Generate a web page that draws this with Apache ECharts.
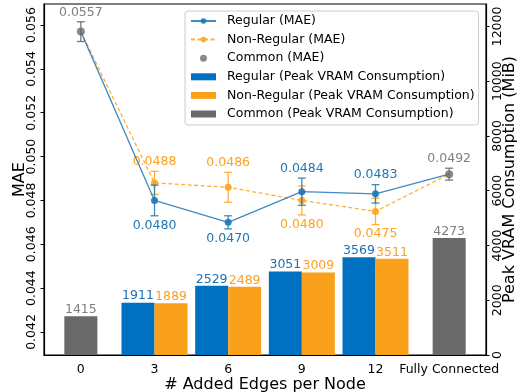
<!DOCTYPE html>
<html>
<head>
<meta charset="utf-8">
<script src="https://cdn.jsdelivr.net/npm/echarts@6/dist/echarts.min.js"></script>
<style>
html,body{margin:0;padding:0;background:#fff;}
#chart{width:523px;height:392px;}
</style>
</head>
<body>
<div id="chart"></div>
<script>
// ---- data ----
const categories = ['0', '3', '6', '9', '12', 'Fully Connected'];
const regularMAE = [null, 0.0480, 0.0470, 0.0484, 0.0483, null];
const regularErr = [null, 0.0007, 0.0003, 0.00062, 0.00042, null];
const nonRegularMAE = [null, 0.0488, 0.0486, 0.0480, 0.0475, null];
const nonRegularErr = [null, 0.00053, 0.00068, 0.00066, 0.0006, null];
const commonMAE = [0.0557, null, null, null, null, 0.0492];
const commonErr = [0.00045, null, null, null, null, 0.00027];
const regularVRAM = [null, 1911, 2529, 3051, 3569, null];
const nonRegularVRAM = [null, 1889, 2489, 3009, 3511, null];
const commonVRAM = [1415, null, null, null, null, 4273];
const vramTickStep = 2000;

// ---- styles ----
const FONT = 'DejaVu Sans';
const C_REG = '#1f77b4';
const C_NON = '#ffa31a';
const C_COM = '#6b6b6b';
const C_REG_BAR = '#0070c0';
const C_NON_BAR = '#f9a11b';
const C_COM_BAR = '#696969';

const regLine = categories.map((_, i) => commonMAE[i] != null ? commonMAE[i] : regularMAE[i]);
const nonLine = categories.map((_, i) => commonMAE[i] != null ? commonMAE[i] : nonRegularMAE[i]);

function errData(vals, errs, other) {
  const out = [];
  vals.forEach((v, i) => {
    if (v == null) return;
    let dir = 1;
    if (other && other[i] != null && v < other[i]) dir = -1;
    out.push([i, v, errs[i], dir]);
  });
  return out;
}

function errRenderer(color, labelColor) {
  return function (params, api) {
    const x = api.value(0), v = api.value(1), e = api.value(2), dir = api.value(3);
    const top = api.coord([x, v + e]);
    const bot = api.coord([x, v - e]);
    const cx = top[0];
    const lw = 1.3, cap = 4;
    const ly = dir > 0 ? top[1] - 9.5 : bot[1] + 9.5;
    return {
      type: 'group',
      children: [
        {type: 'line', shape: {x1: cx, y1: top[1], x2: cx, y2: bot[1]}, style: {stroke: color, lineWidth: lw}},
        {type: 'line', shape: {x1: cx - cap, y1: top[1], x2: cx + cap, y2: top[1]}, style: {stroke: color, lineWidth: lw}},
        {type: 'line', shape: {x1: cx - cap, y1: bot[1], x2: cx + cap, y2: bot[1]}, style: {stroke: color, lineWidth: lw}},
        {type: 'text', x: cx, y: ly, style: {text: v.toFixed(4), fill: labelColor, font: '12.5px "DejaVu Sans"', textAlign: 'center', textVerticalAlign: 'middle'}}
      ]
    };
  };
}

const chart = echarts.init(document.getElementById('chart'), null, {renderer: 'canvas'});

const barLabel = (color) => ({show: true, position: 'top', distance: 0, color: color, fontFamily: FONT, fontSize: 12.5});

const option = {
  animation: false,
  textStyle: {fontFamily: FONT},
  grid: {left: 44, right: 37, top: 4, bottom: 37, show: true, borderColor: '#000', borderWidth: 1.2,
    containLabel: false, outerBoundsMode: 'none'},
  legend: {
    orient: 'vertical', left: 185, top: 11,
    padding: [3, 4, 4, 5], itemGap: 4.6, itemWidth: 25, itemHeight: 7,
    backgroundColor: 'rgba(255,255,255,0.85)', borderColor: '#cccccc', borderWidth: 1, borderRadius: 3,
    textStyle: {fontFamily: FONT, fontSize: 12.5, color: '#000', lineHeight: 14, padding: [0, 0, 0, 6]},
    data: [
      {name: 'Regular (MAE)'},
      {name: 'Non-Regular (MAE)'},
      {name: 'Common (MAE)', icon: 'circle'},
      {name: 'Regular (Peak VRAM Consumption)', icon: 'rect'},
      {name: 'Non-Regular (Peak VRAM Consumption)', icon: 'rect'},
      {name: 'Common (Peak VRAM Consumption)', icon: 'rect'}
    ]
  },
  xAxis: [
    {
      type: 'category', data: categories, position: 'bottom',
      name: '# Added Edges per Node', nameLocation: 'middle', nameGap: 22, nameMoveOverlap: false,
      nameTextStyle: {fontFamily: FONT, fontSize: 16, color: '#000'},
      axisLine: {lineStyle: {color: '#000', width: 1.2}},
      axisTick: {alignWithLabel: true, length: 3.5, lineStyle: {color: '#000'}},
      axisLabel: {interval: 0, margin: 8, color: '#000', fontFamily: FONT, fontSize: 12.5},
      splitLine: {show: false}
    },
    {
      type: 'category', data: categories, position: 'bottom', show: false
    }
  ],
  yAxis: [
    {
      type: 'value', position: 'left', min: 0.04095, max: 0.05696, splitNumber: 7,
      name: 'MAE', nameLocation: 'middle', nameGap: 16, nameRotate: 90, nameMoveOverlap: false,
      nameTextStyle: {fontFamily: FONT, fontSize: 16, color: '#000'},
      axisLine: {show: true, lineStyle: {color: '#000', width: 1.2}},
      axisTick: {show: true, length: 3.5, lineStyle: {color: '#000'}},
      axisLabel: {rotate: 90, margin: 6, color: '#000', fontFamily: FONT, fontSize: 12.5, showMinLabel: false, showMaxLabel: false,
        formatter: v => v.toFixed(3)},
      splitLine: {show: false}
    },
    {
      type: 'value', position: 'right', min: 0, max: 12819, interval: vramTickStep,
      name: 'Peak VRAM Consumption (MiB)', nameLocation: 'middle', nameGap: 16, nameRotate: 90, nameMoveOverlap: false,
      nameTextStyle: {fontFamily: FONT, fontSize: 16, color: '#000'},
      axisLine: {show: true, lineStyle: {color: '#000', width: 1.2}},
      axisTick: {show: true, length: 3.5, lineStyle: {color: '#000'}},
      axisLabel: {rotate: 90, margin: 5, color: '#000', fontFamily: FONT, fontSize: 12.5, showMaxLabel: false,
        formatter: v => String(Math.round(v))},
      splitLine: {show: false}
    }
  ],
  series: [
    {
      name: 'Regular (Peak VRAM Consumption)', type: 'bar', xAxisIndex: 0, yAxisIndex: 1,
      data: regularVRAM, barWidth: 33, barGap: '0%', itemStyle: {color: C_REG_BAR},
      label: barLabel('#1f6fb5'), z: 2
    },
    {
      name: 'Non-Regular (Peak VRAM Consumption)', type: 'bar', xAxisIndex: 0, yAxisIndex: 1,
      data: nonRegularVRAM, barWidth: 33, barGap: '0%', itemStyle: {color: C_NON_BAR},
      label: barLabel('#f7a12a'), z: 2
    },
    {
      name: 'Common (Peak VRAM Consumption)', type: 'bar', xAxisIndex: 1, yAxisIndex: 1,
      data: commonVRAM, barWidth: 33, itemStyle: {color: C_COM_BAR},
      label: barLabel('#808080'), z: 2
    },
    {
      name: 'Regular (MAE)', type: 'line', xAxisIndex: 0, yAxisIndex: 0, data: regLine,
      symbol: 'circle', symbolSize: (v, p) => commonMAE[p.dataIndex] != null ? 0 : 7,
      lineStyle: {color: C_REG, width: 1.3, opacity: 0.85}, itemStyle: {color: C_REG, opacity: 0.9}, z: 5
    },
    {
      name: 'Non-Regular (MAE)', type: 'line', xAxisIndex: 0, yAxisIndex: 0, data: nonLine,
      symbol: 'circle', symbolSize: (v, p) => commonMAE[p.dataIndex] != null ? 0 : 7,
      lineStyle: {color: C_NON, width: 1.3, type: [4, 2.5], opacity: 0.85}, itemStyle: {color: C_NON, opacity: 0.9}, z: 4
    },
    {
      type: 'custom', xAxisIndex: 0, yAxisIndex: 0, data: errData(regularMAE, regularErr, nonRegularMAE),
      encode: {x: 0, y: 1}, renderItem: errRenderer('rgba(31,119,180,0.85)', C_REG), z: 6, silent: true
    },
    {
      type: 'custom', xAxisIndex: 0, yAxisIndex: 0, data: errData(nonRegularMAE, nonRegularErr, regularMAE),
      encode: {x: 0, y: 1}, renderItem: errRenderer('rgba(255,163,26,0.85)', C_NON), z: 5, silent: true
    },
    {
      type: 'custom', xAxisIndex: 0, yAxisIndex: 0, data: errData(commonMAE, commonErr, null),
      encode: {x: 0, y: 1}, renderItem: errRenderer('rgba(107,107,107,0.9)', '#808080'), z: 7, silent: true
    },
    {
      name: 'Common (MAE)', type: 'scatter', xAxisIndex: 0, yAxisIndex: 0, data: commonMAE,
      symbol: 'circle', symbolSize: 8, itemStyle: {color: C_COM}, z: 8
    }
  ]
};
chart.setOption(option);
</script>
</body>
</html>
